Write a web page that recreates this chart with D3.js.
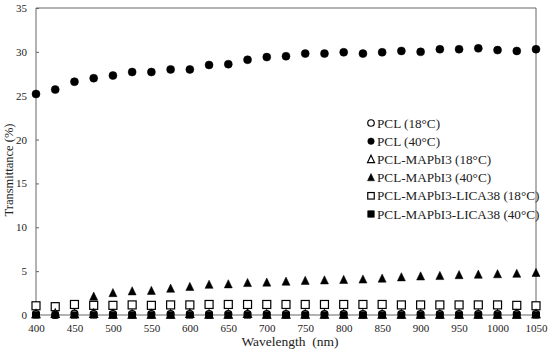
<!DOCTYPE html>
<meta charset="utf-8">
<style>
  body { margin: 0; background: #fff; }
  text { font-family: "Liberation Serif", "Times New Roman", serif; fill: #222; }
</style>
<div id="chart"></div>
<script src="https://cdn.jsdelivr.net/npm/d3@7"></script>
<script>

var wavelengths = d3.range(400, 1051, 25);

// one value per wavelength
var pcl18 = [0.1, 0.0, 0.15, 0.1, 0.1, 0.1, 0.1, 0.1, 0.1, 0.1, 0.1, 0.1, 0.1, 0.1,
             0.1, 0.1, 0.1, 0.1, 0.1, 0.1, 0.1, 0.1, 0.1, 0.1, 0.1, 0.1, 0.1];
var pcl40 = [25.2, 25.7, 26.6, 27.0, 27.3, 27.7, 27.7, 28.0, 28.0, 28.5, 28.6, 29.1, 29.4, 29.5,
             29.8, 29.8, 29.95, 29.8, 29.95, 30.1, 30.0, 30.3, 30.3, 30.4, 30.2, 30.1, 30.3];
var mapbi18 = [0.1, 0.15, 0.1, 0.15, 0.05, 0.05, 0.05, 0.05, 0.15, 0.05, 0.05, 0.15, 0.05, 0.05,
               0.05, 0.05, 0.05, 0.05, 0.05, 0.05, 0.05, 0.05, 0.05, 0.05, 0.05, 0.05, 0.1];
var mapbi40 = [null, null, null, 2.1, 2.5, 2.7, 2.75, 3.0, 3.2, 3.45, 3.5, 3.65, 3.7, 3.8,
               3.9, 3.95, 4.0, 4.05, 4.15, 4.3, 4.4, 4.45, 4.55, 4.6, 4.65, 4.7, 4.8];
var lica18 = [1.05, 0.95, 1.2, 1.1, 1.1, 1.15, 1.1, 1.15, 1.15, 1.2, 1.2, 1.2, 1.2, 1.2,
              1.2, 1.2, 1.2, 1.2, 1.2, 1.15, 1.15, 1.15, 1.15, 1.15, 1.15, 1.1, 1.05];
var lica40 = [0, 0, 0, 0, 0, 0, 0, 0, 0, 0, 0, 0, 0, 0,
              0, 0, 0, 0, 0, 0, 0, 0, 0, 0, 0, 0, 0];

var xTicks = d3.range(400, 1051, 50);
var yTicks = d3.range(0, 36, 5);

var series = [
  { name: "PCL (18°C)", vals: pcl18, shape: "circle", filled: false },
  { name: "PCL (40°C)", vals: pcl40, shape: "circle", filled: true },
  { name: "PCL-MAPbI3 (18°C)", vals: mapbi18, shape: "triangle", filled: false },
  { name: "PCL-MAPbI3 (40°C)", vals: mapbi40, shape: "triangle", filled: true },
  { name: "PCL-MAPbI3-LICA38 (18°C)", vals: lica18, shape: "square", filled: false },
  { name: "PCL-MAPbI3-LICA38 (40°C)", vals: lica40, shape: "square", filled: true }
];

var width = 550, height = 353;
var margin = { top: 8, right: 14, bottom: 38, left: 36 };

var svg = d3.select("#chart").append("svg")
    .attr("width", width)
    .attr("height", height);

var x = d3.scaleLinear().domain([400, 1050]).range([margin.left, width - margin.right]);
var y = d3.scaleLinear().domain([0, 35]).range([height - margin.bottom, margin.top]);

var axisColor = "#666";

// frame: top and right lines
svg.append("line")
    .attr("x1", x(400)).attr("x2", x(1050))
    .attr("y1", y(35)).attr("y2", y(35))
    .attr("stroke", axisColor).attr("stroke-width", 1);
svg.append("line")
    .attr("x1", x(1050)).attr("x2", x(1050))
    .attr("y1", y(35)).attr("y2", y(0))
    .attr("stroke", axisColor).attr("stroke-width", 1);

// y axis, ticks crossing the line
var yAxis = svg.append("g")
    .attr("transform", "translate(" + x(400) + ",0)")
    .call(d3.axisLeft(y).tickValues(yTicks).tickSize(3).tickPadding(6));
yAxis.selectAll(".tick line").attr("x2", 3);
yAxis.select(".domain").attr("d", "M0," + y(0) + "V" + y(35));

var xAxis = svg.append("g")
    .attr("transform", "translate(0," + y(0) + ")")
    .call(d3.axisBottom(x).tickValues(xTicks).tickFormat(d3.format("d")).tickSize(0).tickPadding(9));
xAxis.select(".domain").attr("d", "M" + x(400) + ",0H" + x(1050));

svg.selectAll(".domain").attr("stroke", axisColor);
svg.selectAll(".tick line").attr("stroke", axisColor);
svg.selectAll(".tick text")
    .style("font-family", "'Liberation Serif', serif")
    .style("font-size", "11px")
    .attr("fill", "#555");

svg.append("text")
    .attr("x", 290)
    .attr("y", height - 7)
    .attr("text-anchor", "middle")
    .style("font-size", "13.5px")
    .style("white-space", "pre")
    .text("Wavelength\u00A0 (nm)");

svg.append("text")
    .attr("transform", "translate(13,170) rotate(-90)")
    .attr("text-anchor", "middle")
    .style("font-size", "12.5px")
    .text("Transmittance (%)");

function marker(g, shape, filled, cx, cy, s) {
  var fill = filled ? "#000" : "#fff";
  var m;
  if (shape === "circle") {
    m = g.append("circle").attr("cx", cx).attr("cy", cy).attr("r", s / 2);
  } else if (shape === "square") {
    m = g.append("rect").attr("x", cx - s / 2).attr("y", cy - s / 2).attr("width", s).attr("height", s);
  } else {
    var h = s * 0.9;
    m = g.append("path").attr("d", "M" + cx + "," + (cy - h / 2 - 1) +
        "L" + (cx + s / 2) + "," + (cy + h / 2) + "L" + (cx - s / 2) + "," + (cy + h / 2) + "Z");
  }
  m.attr("fill", fill).attr("stroke", "#000").attr("stroke-width", filled ? 0.5 : 1.2);
}

// draw order: open squares, filled triangles, filled circles, then near-zero series
var drawOrder = [4, 3, 1, 2, 0, 5];
drawOrder.forEach(function (si) {
  var s = series[si];
  var g = svg.append("g");
  s.vals.forEach(function (v, i) {
    if (v === null) return;
    var size = s.shape === "circle" ? (s.filled ? 8 : 7) : (s.shape === "square" ? (s.filled ? 6.5 : 8) : 8);
    marker(g, s.shape, s.filled, x(wavelengths[i]), y(v), size);
  });
});

// legend
var leg = svg.append("g");
series.forEach(function (s, i) {
  var ly = 123 + i * 18.2;
  var size = s.shape === "triangle" ? 7 : 6.5;
  marker(leg, s.shape, s.filled, 371, ly, size);
  leg.append("text")
      .attr("x", 377)
      .attr("y", ly + 4.5)
      .style("font-size", "13.2px")
      .text(s.name);
});

</script>
